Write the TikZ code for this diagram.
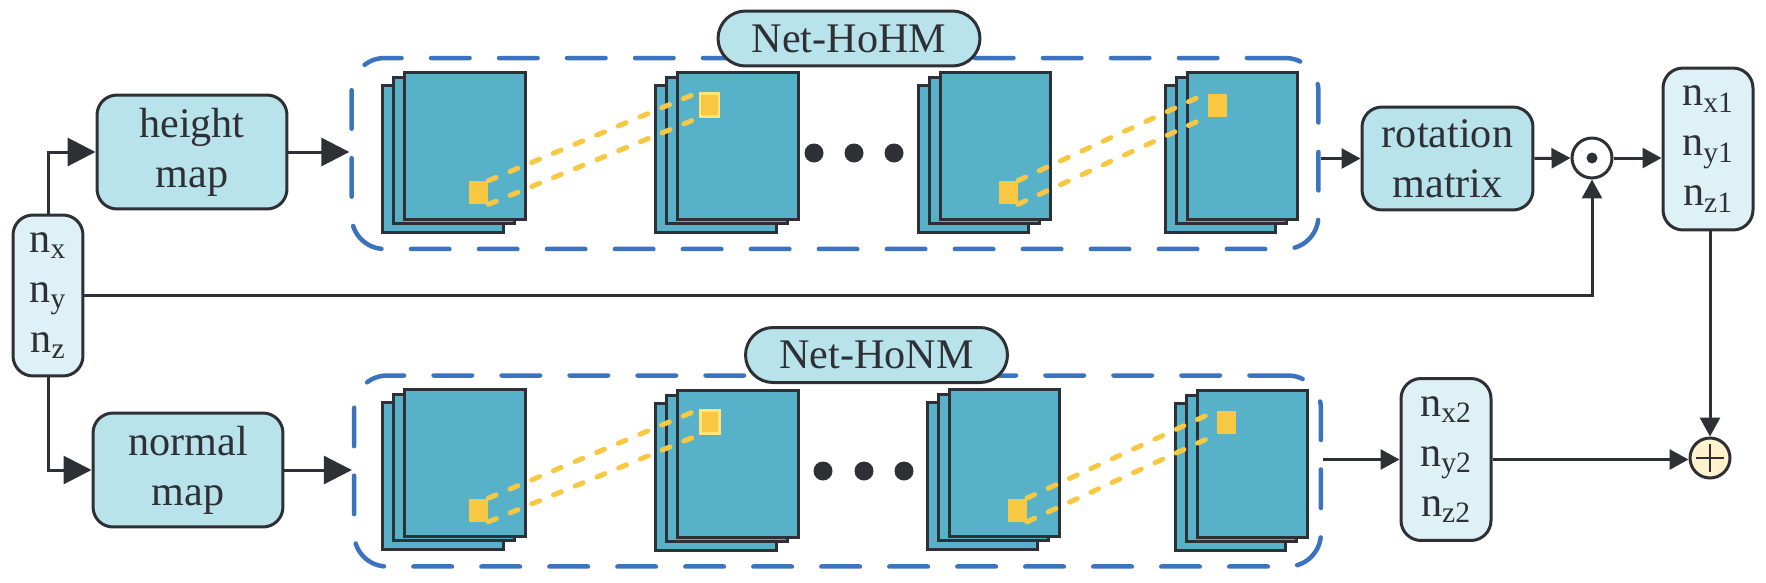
\documentclass[tikz,border=0pt]{standalone}
\usepackage{fontspec}
\setmainfont{Liberation Serif}
\usetikzlibrary{
  calc,
  arrows.meta,
  positioning
}
\definecolor{ink}{HTML}{2E3036}
\definecolor{boxfill}{HTML}{B8E3EA}
\definecolor{vecfill}{HTML}{DDF1F7}
\definecolor{sheetfill}{HTML}{57B1C9}
\definecolor{netblue}{HTML}{3B73BF}
\definecolor{yel}{HTML}{F8C842}
\definecolor{yelrim}{HTML}{FFE47C}
\definecolor{plusfill}{HTML}{FFF2CC}
\newcommand{\figfont}{\fontsize{24}{28.5}\selectfont}
\tikzset{
  block/.style={rectangle, draw=ink, line width=0.06cm, rounded corners=0.4cm,
    fill=boxfill, text=ink, align=center, inner sep=0pt, font=\figfont},
  vecbox/.style={block, fill=vecfill, minimum width=1.8cm, minimum height=3.24cm},
  netlabel/.style={block, rounded corners=0.55cm, minimum width=5.24cm, minimum height=1.1cm},
  netframe/.style={rectangle, draw=netblue, line width=0.09cm, line cap=round,
    dash pattern=on 0.77cm off 0.59cm, rounded corners=0.66cm,
    minimum width=19.34cm, minimum height=3.82cm},
  flow/.style={-{Triangle[length=0.38cm,width=0.4cm]}, line width=0.06cm, draw=ink},
  bigflow/.style={flow, -{Triangle[length=0.56cm,width=0.56cm]}}
}

\begin{document}
\begin{tikzpicture}[
    x=0.02cm, y=-0.02cm,
    sheet/.style={draw=ink, fill=sheetfill, line width=0.06cm},
    patch/.style={rectangle, fill=yel, inner sep=0pt,
                  minimum width=0.38cm, minimum height=0.46cm},
    link/.style={yel, line width=0.1cm, line cap=round,
                 dash pattern=on 0.17cm off 0.3cm},
    dot/.style={circle, fill=ink, inner sep=0pt, minimum size=0.38cm},
    op/.style={circle, draw=ink, line width=0.06cm, fill=white,
               inner sep=0pt, minimum size=0.8cm}
]
\useasboundingbox (0,0) rectangle (1766,582);

% inputs
\node[block, fill=vecfill, minimum width=1.4cm, minimum height=3.22cm] (nxyz) at (48,295.5)
  {n\textsubscript{x}\\n\textsubscript{y}\\n\textsubscript{z}};
\node[block, minimum width=3.8cm, minimum height=2.28cm] (hmap) at (192,152) {height\\map};
\node[block, minimum width=3.8cm, minimum height=2.28cm] (nmap) at (188,470) {normal\\map};

% networks
\node[netframe] (hohm) at (835,153.5) {};
\node[netframe] (honm) at (837.5,471) {};

\foreach \sx/\sy/\sw in {404/72/121, 677/72/121, 940/72/110, 1187/72/110,
                         404/389/121, 677/390/121, 949/389/110, 1197/390/110}{
  \draw[sheet] (\sx-22,\sy+13) rectangle ++(\sw,147);
  \draw[sheet] (\sx-11,\sy+5) rectangle ++(\sw,146);
  \draw[sheet] (\sx,\sy) rectangle ++(\sw,147);
}

% patches
\node[patch] (hA) at (478.5,192.5) {};
\node[patch, draw=yelrim, line width=0.05cm] (hB) at (709.5,105) {};
\node[patch] (hC) at (1008,192.5) {};
\node[patch] (hD) at (1217,105) {};
\node[patch] (nA) at (478.5,510) {};
\node[patch, draw=yelrim, line width=0.05cm] (nB) at (710,422) {};
\node[patch] (nC) at (1017,510) {};
\node[patch] (nD) at (1226.5,422.5) {};

\foreach \a/\b in {hA/hB, hC/hD, nA/nB, nC/nD}{
  \draw[link] (\a.north east) -- (\b.north west);
  \draw[link] (\a.south east) -- (\b.south west);
}

% dots
\node[dot] (hdot1) at (814,153) {};
\node[dot] (hdot2) at (854,153) {};
\node[dot] (hdot3) at (894,153) {};
\node[dot] (ndot1) at (823,471) {};
\node[dot] (ndot2) at (864,471) {};
\node[dot] (ndot3) at (904,471) {};

\node[netlabel] (hohmlbl) at (849,38.5) {Net-HoHM};
\node[netlabel] (honmlbl) at (876.5,355) {Net-HoNM};

% outputs
\node[block, minimum width=3.42cm, minimum height=2.06cm] (rot) at (1447.5,158.5) {rotation\\matrix};
\node[op] (mul) at (1592,158) {};
\node[dot, minimum size=0.22cm] (muldot) at (mul) {};
\node[vecbox] (n1) at (1708,149)
  {n\textsubscript{x1}\\n\textsubscript{y1}\\n\textsubscript{z1}};
\node[vecbox] (n2) at (1446,459.5)
  {n\textsubscript{x2}\\n\textsubscript{y2}\\n\textsubscript{z2}};
\node[op, fill=plusfill] (add) at (1710,458) {};
\draw[ink, line width=0.05cm] (add.center) ++(-14,0) -- ++(28,0);
\draw[ink, line width=0.05cm] (add.center) ++(0,-14) -- ++(0,28);

% arrows
\draw[bigflow] (nxyz.north) |- (hmap.west);
\draw[bigflow] (nxyz.south) |- (nmap.west);
\draw[bigflow] (hmap.east) -- (hmap.east -| hohm.west);
\draw[bigflow] (nmap.east) -- (nmap.east -| honm.west);
\draw[flow] (nxyz.east) -| (mul.south);
\draw[flow] (rot.west -| hohm.east) -- (rot.west);
\draw[flow] (rot.east) -- (mul.west);
\draw[flow] (mul.east) -- (mul.east -| n1.west);
\draw[flow] (add.north |- n1.south) -- (add.north);
\draw[flow] (n2.west -| honm.east) -- (n2.west);
\draw[flow] (n2.east) -- (n2.east -| add.west);

\end{tikzpicture}
\end{document}
